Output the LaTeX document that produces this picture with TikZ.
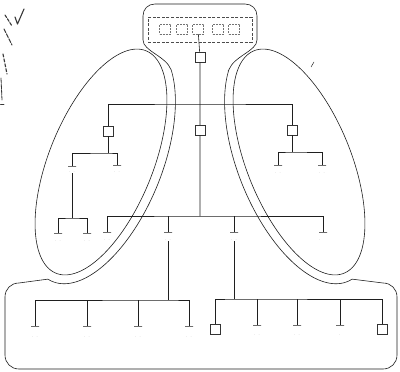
\documentclass[tikz,border=0pt]{standalone}
\begin{document}
\begin{tikzpicture}[x=1pt,y=-1pt,
  ln/.style={draw=black!88, line width=0.6pt},
  unit/.style={draw=black!80, line width=0.5pt, fill=white, inner sep=0pt, minimum width=10pt, minimum height=10pt},
  chip/.style={draw=black!55, line width=0.45pt, dash pattern=on 2pt off 1pt, inner sep=0pt, minimum width=11pt, minimum height=10pt},
  ctrlbox/.style={draw=black!70, line width=0.55pt, dash pattern=on 3pt off 1.6pt, inner sep=0pt, minimum width=104pt, minimum height=25pt},
  bar/.style={draw=black!88, line width=0.6pt, inner sep=0pt, minimum width=8pt, minimum height=0pt},
  lbl/.style={text=black!55, inner sep=0.6pt, font=\fontsize{4}{4}\selectfont},
  hand/.style={draw=black!78, line width=1.1pt, line cap=round, line join=round}]

\fill[white] (0,0) rectangle (400,372);
\useasboundingbox (0,0) rectangle (400,372);

% ---------- enclosing outline: head box, neck, inner flanks, base box ----------
\draw[ln]
  (143,40) -- (143,16) .. controls (143,9) and (148,4) .. (155,4)
  -- (245,4) .. controls (252,4) and (257,9) .. (257,16)
  -- (257,40) .. controls (257,51) and (234,56) .. (228.8,69.9)
  -- plot[domain=60:-95, samples=80, variable=\t]
     ({299-61*cos(\t)*0.927-129*sin(\t)*0.375},{162+61*cos(\t)*0.375-129*sin(\t)*0.927})
  -- (383,283) .. controls (391,283) and (397,289) .. (397,297)
  -- (397,355) .. controls (397,363) and (391,369) .. (383,369)
  -- (19,369) .. controls (11,369) and (5,363) .. (5,355)
  -- (5,297) .. controls (5,289) and (11,283) .. (19,283)
  -- plot[domain=-95:60, samples=80, variable=\t]
     ({101+61*cos(\t)*0.927+129*sin(\t)*0.375},{162+61*cos(\t)*0.375-129*sin(\t)*0.927})
  .. controls (166,56) and (143,51) .. (143,40) -- cycle;

% ---------- tilted groups ----------
\draw[ln] plot[domain=0:360, samples=140, variable=\t]
  ({101+52*cos(\t)*0.927+120*sin(\t)*0.375},{162+52*cos(\t)*0.375-120*sin(\t)*0.927}) -- cycle;
\draw[ln] plot[domain=0:360, samples=140, variable=\t]
  ({299-52*cos(\t)*0.927-120*sin(\t)*0.375},{162+52*cos(\t)*0.375-120*sin(\t)*0.927}) -- cycle;

% ---------- controller block ----------
\node[ctrlbox] (ctrl) at (200,29.5) {};
\node[chip] (k1) at (165,29) {};
\node[chip] (k2) at (182,29) {};
\node[chip] (k3) at (198,29) {};
\node[chip] (k4) at (218,29) {};
\node[chip] (k5) at (234,29) {};

% ---------- trunk ----------
\node[unit] (u0) at (200,57) {};
\coordinate (j1) at (200,104);
\node[unit] (u1) at (200,130) {};
\coordinate (j2) at (200,216);
\draw[ln] (k3) -- (u0) -- (u1) -- (j2);

% ---------- first level ----------
\node[unit] (uL) at (108,131) {};
\node[unit] (uR) at (292,130) {};
\draw[ln] (uL) |- (j1) -| (uR);

% left group
\coordinate (jL2) at (108,153);
\node[bar] (uLa) at (72,166) {};
\node[lbl] (uLat) at (72,172) {. .};
\node[bar] (uLb) at (117,165) {};
\node[lbl] (uLbt) at (117,172) {. .};
\draw[ln] (uL) -- (jL2);
\draw[ln] (uLa) |- (jL2) -| (uLb);
\coordinate (jL3) at (72,218);
\node[bar] (lA) at (58,233) {};
\node[bar] (lB) at (87,233) {};
\node[lbl] (lAt) at (58,241) {. .};
\node[lbl] (lBt) at (87,241) {. .};
\draw[ln] (uLat) -- (jL3);
\draw[ln] (lA) |- (jL3) -| (lB);

% right group
\coordinate (jR2) at (292,152);
\node[bar] (rA) at (278,165) {};
\node[bar] (rB) at (322,165) {};
\node[lbl] (rAt) at (278,173) {. .};
\node[lbl] (rBt) at (322,173) {. .};
\draw[ln] (uR) -- (jR2);
\draw[ln] (rA) |- (jR2) -| (rB);

% ---------- second level ----------
\node[bar] (c1) at (107,232) {};
\node[bar] (c2) at (168,232) {};
\node[bar] (c3) at (234,232) {};
\node[bar] (c4) at (323,232) {};
\node[lbl] (c1t) at (107,240) {. .};
\node[lbl] (c2t) at (168,240) {. .};
\node[lbl] (c3t) at (234,240) {. .};
\node[lbl] (c4t) at (320,240) {.};
\draw[ln] (c1) |- (j2) -| (c4);
\draw[ln] (c2) -- (c2 |- j2);
\draw[ln] (c3) -- (c3 |- j2);

% ---------- base row, left ----------
\coordinate (jB1) at (168,300);
\node[bar] (b1) at (35,326) {};
\node[bar] (b2) at (87,326) {};
\node[bar] (b3) at (138,326) {};
\node[bar] (b4) at (189,326) {};
\node[lbl] (b1t) at (35,337) {. .};
\node[lbl] (b2t) at (87,337) {. .};
\node[lbl] (b3t) at (138,337) {. .};
\node[lbl] (b4t) at (189,337) {. .};
\draw[ln] (c2t) -- (jB1);
\draw[ln] (b1) |- (jB1) -| (b4);
\draw[ln] (b2) -- (b2 |- jB1);
\draw[ln] (b3) -- (b3 |- jB1);

% ---------- base row, right ----------
\coordinate (jB2) at (234,299);
\node[unit] (r1) at (215,329) {};
\node[bar] (r2) at (257,325) {};
\node[bar] (r3) at (297,325) {};
\node[bar] (r4) at (340,325) {};
\node[unit] (r5) at (382,329) {};
\node[lbl] (r2t) at (257,335) {. .};
\node[lbl] (r3t) at (297,335) {. .};
\node[lbl] (r4t) at (340,335) {.};
\draw[ln] (c3t) -- (jB2);
\draw[ln] (r1) |- (jB2) -| (r5);
\draw[ln] (r2) -- (r2 |- jB2);
\draw[ln] (r3) -- (r3 |- jB2);
\draw[ln] (r4) -- (r4 |- jB2);

% ---------- pen marks ----------
\draw[ln, line width=0.5pt] (311,67) -- (314,62);
\draw[hand] (15,17) -- (17.5,24) -- (24,9);
\draw[hand, dash pattern=on 3pt off 1.5pt] (5,15) -- (12,26);
\draw[hand, dash pattern=on 4pt off 1.5pt] (4,29) -- (12,45);
\draw[hand, dash pattern=on 3pt off 2pt] (3,54) -- (7,74);
\draw[hand, line width=0.8pt, dash pattern=on 5pt off 1pt] (1,78) -- (2,100);
\draw[hand, line width=0.7pt] (0.5,104) -- (4,104);
\end{tikzpicture}
\end{document}
